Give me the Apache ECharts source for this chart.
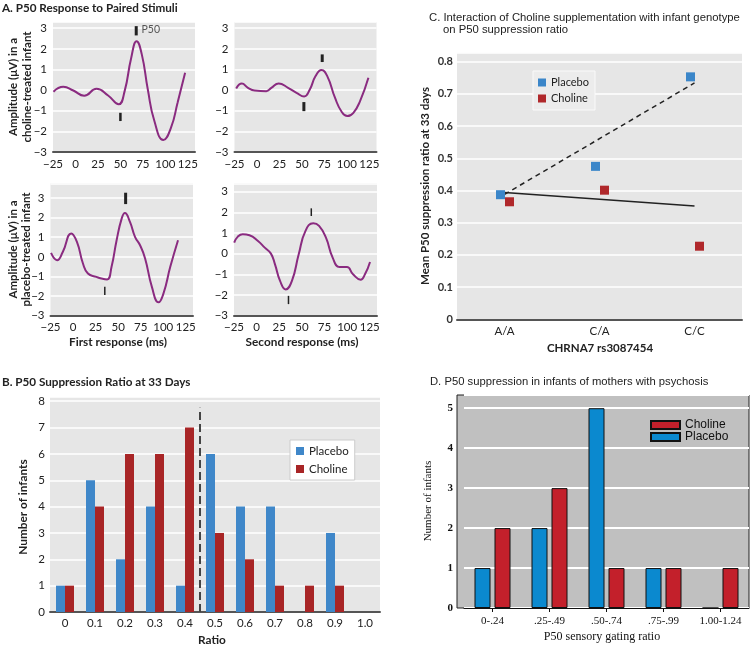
<!DOCTYPE html>
<html><head><meta charset="utf-8">
<script src="https://cdn.jsdelivr.net/npm/echarts@6/dist/echarts.min.js"></script>
<style>html,body{margin:0;padding:0;background:#fff}#c{width:751px;height:645px}</style>
</head><body><div id="c"></div>
<script>
// ---------- Panel A: P50 waveforms [ms, µV] ----------
const waveCholineFirst = [[-24.5,-0.08],[-13.5,0.16],[-2.4,-0.02],[9.7,-0.27],[23.4,0.06],[36.3,-0.26],[48,-0.69],[54.7,-0.05],[62,1.56],[68,2.37],[73.8,1.73],[80.5,0.03],[87.8,-1.5],[97.8,-2.42],[106.3,-1.82],[113.6,-0.61],[122,0.84]];
const waveCholineSecond = [[-23.1,0.08],[-16.8,0.32],[-10,0.11],[-2.6,-0.02],[10.4,-0.05],[16,0.11],[24.2,0.32],[34.6,0.11],[44,-0.13],[52.5,-0.31],[58.8,0.03],[65.2,0.68],[71.8,0.97],[78.2,0.68],[86.8,-0.37],[94.2,-1.05],[100.6,-1.26],[107.3,-1.1],[114.7,-0.53],[124,0.6]];
const wavePlaceboFirst = [[-24.4,0.2],[-17.7,-0.17],[-11.4,0.25],[-2,1.19],[4.3,0.76],[11,-0.34],[16.5,-0.85],[25.9,-1.02],[31.5,-1.1],[37.8,-1.15],[42.7,-0.51],[48.3,0.85],[53.9,1.95],[57.5,2.24],[63.1,1.78],[68.7,1.02],[74.3,0.59],[79.9,-0.08],[87.4,-1.53],[94.8,-2.32],[100.3,-1.86],[107.8,-0.51],[116.4,0.85]];
const wavePlaceboSecond = [[-24.8,0.53],[-21,0.81],[-15.4,0.94],[-7.9,0.89],[1.5,0.61],[9,0.29],[15.8,0],[20.3,-0.52],[25.9,-1.32],[32.2,-1.73],[39,-1.32],[46.5,-0.03],[54,1.1],[62.6,1.47],[69,1.34],[76.6,0.77],[84,-0.19],[91.6,-0.65],[99.8,-0.65],[106.5,-1],[114.9,-1.26],[119.7,-1],[125.3,-0.4]];
// peak markers: [ms, low µV, high µV]
const markCholineFirst = [[67.6,2.65,3.1],[50,-1.5,-1.1]];
const markCholineSecond = [[72.6,1.36,1.73],[52.2,-1.02,-0.58]];
const markPlaceboFirst = [[58.3,2.69,3.27],[35.2,-1.95,-1.53]];
const markPlaceboSecond = [[60.4,1.82,2.19],[35.2,-2.44,-2.04]];

// ---------- Panel B ----------
const ratioLabels = ['0','0.1','0.2','0.3','0.4','0.5','0.6','0.7','0.8','0.9','1.0'];
const placeboCounts = [1,5,2,4,1,6,4,4,0,3,0];
const cholineCounts = [1,4,6,6,7,3,2,1,1,1,0];
const thresholdRatio = 0.45;
const thresholdTop = 7.75;

// ---------- Panel C ----------
const genotypes = ['A/A','C/A','C/C'];
const placeboMeans = [0.387,0.475,0.753];
const cholineMeans = [0.365,0.401,0.227];
const placeboFit = [0.388,null,0.734];
const cholineFit = [0.394,null,0.352];

// ---------- Panel D ----------
const gatingBins = ['0-.24','.25-.49','.50-.74','.75-.99','1.00-1.24'];
const dPlacebo = [1,2,5,1,0];
const dCholine = [2,3,1,1,1];

// ---------- styling ----------
const SANS = 'Lato';
const PURPLE = '#8a2b80';
const BG = '#e6e6e6';
const minus = v => (v < 0 ? '\u2212' + Math.abs(v) : '' + v);
const intOnly = v => Math.abs(v - Math.round(v)) > 1e-6 ? '' : minus(Math.round(v));

const aGrids = [
  {left:53, top:22, width:142, height:130, ymax:3.3},
  {left:234.5, top:22, width:142, height:130, ymax:3.3},
  {left:50.5, top:183.3, width:142.5, height:132.4, ymax:3.75},
  {left:234, top:183.3, width:143, height:132.4, ymax:3.4}
];
const waves = [waveCholineFirst, waveCholineSecond, wavePlaceboFirst, wavePlaceboSecond];
const marks = [markCholineFirst, markCholineSecond, markPlaceboFirst, markPlaceboSecond];
const markWidths = [[3,2.5],[3,3],[3,1.5],[1.5,1.5]];

const grid = [], xAxis = [], yAxis = [], series = [];
aGrids.forEach((g, i) => {
  grid.push({left:g.left, top:g.top, width:g.width, height:g.height, show:true, backgroundColor:BG, borderWidth:0});
  xAxis.push({type:'value', gridIndex:i, min:-25, max:133, interval:25,
    axisLine:{show:true, onZero:false, lineStyle:{color:'#555', width:2}}, axisTick:{show:false}, splitLine:{show:false},
    axisLabel:{formatter:v => (v % 25 === 0 ? minus(v) : ''), color:'#222', fontFamily:SANS, fontSize:11.5, margin:6}});
  yAxis.push({type:'value', gridIndex:i, min:-3, max:g.ymax, interval:1,
    axisLine:{show:false}, axisTick:{show:false},
    splitLine:{show:true, lineStyle:{color:'#fff', width:1.5}},
    axisLabel:{formatter:intOnly, color:'#222', fontFamily:SANS, fontSize:11.5, margin:6}});
  series.push({type:'line', xAxisIndex:i, yAxisIndex:i, data:waves[i], smooth:0.5, showSymbol:false,
    lineStyle:{color:PURPLE, width:2}, silent:true});
  const w = markWidths[i];
  series.push({type:'custom', xAxisIndex:i, yAxisIndex:i, data:marks[i], silent:true,
    renderItem:(params, api) => {
      const p1 = api.coord([api.value(0), api.value(1)]);
      const p2 = api.coord([api.value(0), api.value(2)]);
      return {type:'line', shape:{x1:p1[0], y1:p1[1], x2:p2[0], y2:p2[1]},
        style:{stroke:'#222', lineWidth:w[params.dataIndex]}};
    }});
});

// Panel B grid (index 4)
grid.push({left:50, top:397, width:330, height:215, show:true, backgroundColor:BG, borderWidth:0});
xAxis.push({type:'category', gridIndex:4, data:ratioLabels,
  axisLine:{lineStyle:{color:'#555', width:2}}, axisTick:{show:false},
  axisLabel:{color:'#222', fontFamily:SANS, fontSize:11.5, margin:5}});
xAxis.push({type:'value', gridIndex:4, min:-0.05, max:1.05, show:false});
yAxis.push({type:'value', gridIndex:4, min:0, max:8.16, interval:1,
  axisLine:{show:false}, axisTick:{show:false}, splitLine:{lineStyle:{color:'#fff', width:1.5}},
  axisLabel:{formatter:intOnly, color:'#222', fontFamily:SANS, fontSize:11.5, margin:5}});
series.push({name:'Placebo', type:'bar', xAxisIndex:4, yAxisIndex:4, data:placeboCounts, barWidth:9, barGap:'0%', itemStyle:{color:'#3f87c9'}});
series.push({name:'Choline', type:'bar', xAxisIndex:4, yAxisIndex:4, data:cholineCounts, barWidth:9, barGap:'0%', itemStyle:{color:'#a82526'}});
series.push({type:'line', xAxisIndex:5, yAxisIndex:4, data:[[thresholdRatio,0],[thresholdRatio,thresholdTop]],
  showSymbol:false, silent:true, lineStyle:{color:'#444', width:2, type:[8,4]}});

// Panel C grid (index 5)
grid.push({left:457, top:52.7, width:285, height:266.6, show:true, backgroundColor:BG, borderWidth:0});
xAxis.push({type:'category', gridIndex:5, data:genotypes,
  axisLine:{lineStyle:{color:'#555', width:2}}, axisTick:{show:false},
  axisLabel:{color:'#222', fontFamily:SANS, fontSize:11.5, margin:6}});
yAxis.push({type:'value', gridIndex:5, min:0, max:0.828, interval:0.1,
  axisLine:{show:false}, axisTick:{show:false}, splitLine:{lineStyle:{color:'#fff', width:1.5}},
  axisLabel:{formatter:v => { const r = Math.round(v*10); return Math.abs(v*10 - r) > 1e-6 ? '' : (r === 0 ? '0' : (r/10).toFixed(1)); },
    color:'#333', fontFamily:SANS, fontWeight:'bold', fontSize:11, margin:4}});
series.push({type:'line', xAxisIndex:6, yAxisIndex:5, data:placeboFit, connectNulls:true, showSymbol:false, silent:true, z:1,
  lineStyle:{color:'#222', width:1.5, type:[5,4]}});
series.push({type:'line', xAxisIndex:6, yAxisIndex:5, data:cholineFit, connectNulls:true, showSymbol:false, silent:true, z:1,
  lineStyle:{color:'#222', width:1.5}});
series.push({name:'Placebo ', type:'scatter', xAxisIndex:6, yAxisIndex:5, data:placeboMeans, symbol:'rect', symbolSize:9, symbolOffset:[-4,0], itemStyle:{color:'#3b86c9', opacity:1}, z:3});
series.push({name:'Choline ', type:'scatter', xAxisIndex:6, yAxisIndex:5, data:cholineMeans, symbol:'rect', symbolSize:9, symbolOffset:[5,0], itemStyle:{color:'#b0282b', opacity:1}, z:3});

// Panel D grid (index 6)
grid.push({left:464, top:395, width:285, height:213, show:false});
xAxis.push({type:'category', gridIndex:6, data:gatingBins,
  axisLine:{lineStyle:{color:'#111', width:1}}, axisTick:{show:true, alignWithLabel:true, length:4, lineStyle:{color:'#111'}},
  axisLabel:{color:'#111', fontFamily:'Liberation Serif', fontSize:11, margin:8}});
yAxis.push({type:'value', gridIndex:6, min:0, max:5.33, interval:1,
  axisLine:{show:false}, axisTick:{show:false}, splitLine:{lineStyle:{color:'#fff', width:2}},
  axisLabel:{formatter:intOnly, color:'#111', fontFamily:'Liberation Serif', fontWeight:'bold', fontSize:11, margin:11}});
series.push({name:'Placebo  ', type:'bar', xAxisIndex:7, yAxisIndex:6, data:dPlacebo, barWidth:16, barGap:'25%', itemStyle:{color:'#0b89cf', borderColor:'#111', borderWidth:1}});
series.push({name:'Choline  ', type:'bar', xAxisIndex:7, yAxisIndex:6, data:dCholine, barWidth:16, barGap:'25%', itemStyle:{color:'#c3202b', borderColor:'#111', borderWidth:1}});

const trimName = n => n.trim();
const legend = [
  {data:['Placebo','Choline'], left:290, top:440, orient:'vertical', itemWidth:8, itemHeight:8, itemGap:6, icon:'rect',
    padding:[5,6,5,6], backgroundColor:'#fff', borderColor:'#ccc', borderWidth:1, formatter:trimName,
    textStyle:{fontFamily:SANS, fontSize:11.5, color:'#222'}, selectedMode:false},
  {data:['Placebo ','Choline '], left:533, top:71, orient:'vertical', itemWidth:8, itemHeight:8, itemGap:5, icon:'rect',
    padding:[6,6,6,5], backgroundColor:'#ececec', borderColor:'#fafafa', borderWidth:1, formatter:trimName,
    textStyle:{fontFamily:SANS, fontSize:11, color:'#222'}, selectedMode:false},
  {data:['Choline  ','Placebo  '], left:645, top:414, orient:'vertical', itemWidth:29, itemHeight:8, itemGap:0, icon:'rect',
    formatter:trimName, textStyle:{fontFamily:'Liberation Sans', fontSize:12, color:'#111'}, selectedMode:false}
];

const txt = (text, x, y, font, opts = {}) => ({type:'text', x, y, rotation:opts.rot || 0, z:100, silent:true,
  style:{text, x:0, y:0, font, fill:opts.fill || '#222', textAlign:opts.align || 'left', textVerticalAlign:'middle'}});
const R = Math.PI / 2;
const graphic = [
  {type:'rect', shape:{x:457, y:395, width:292, height:213}, style:{fill:'#c0c0c0', stroke:'#222', lineWidth:1}, z:-100, silent:true},
  txt('A. P50 Response to Paired Stimuli', 2, 8, 'bold 11.7px Lato'),
  txt('P50', 141.5, 29.5, '10.5px Lato', {fill:'#555'}),
  txt('Amplitude (\u03bcV) in a', 13, 87, 'bold 11.5px Lato', {rot:R, align:'center'}),
  txt('choline-treated infant', 27, 87, 'bold 11.5px Lato', {rot:R, align:'center'}),
  txt('Amplitude (\u03bcV) in a', 13, 249.5, 'bold 11.5px Lato', {rot:R, align:'center'}),
  txt('placebo-treated infant', 26, 249.5, 'bold 11.5px Lato', {rot:R, align:'center'}),
  txt('First response (ms)', 118, 342, 'bold 11.8px Lato', {align:'center'}),
  txt('Second response (ms)', 302, 342, 'bold 11.8px Lato', {align:'center'}),
  txt('B. P50 Suppression Ratio at 33 Days', 2, 382, 'bold 11.7px Lato'),
  txt('Number of infants', 23, 507, 'bold 11.8px Lato', {rot:R, align:'center'}),
  txt('Ratio', 212, 640, 'bold 11.8px Lato', {align:'center'}),
  txt('C. Interaction of Choline supplementation with infant genotype', 429, 18, '11.3px "Liberation Sans"'),
  txt('on P50 suppression ratio', 443, 30, '11.3px "Liberation Sans"'),
  txt('Mean P50 suppression ratio at 33 days', 425, 186, 'bold 11.5px Lato', {rot:R, align:'center'}),
  txt('CHRNA7 rs3087454', 600, 348, 'bold 11.5px Lato', {align:'center'}),
  txt('D. P50 suppression in infants of mothers with psychosis', 430, 382, '11.25px "Liberation Sans"'),
  txt('Number of infants', 428, 501, '11px "Liberation Serif"', {rot:R, align:'center', fill:'#111'}),
  txt('P50 sensory gating ratio', 602, 637, '12px "Liberation Serif"', {align:'center', fill:'#111'})
];

const chart = echarts.init(document.getElementById('c'), null, {renderer:'canvas'});
chart.setOption({animation:false, backgroundColor:'#fff', grid, xAxis, yAxis, series, legend, graphic});
</script>
</body></html>
